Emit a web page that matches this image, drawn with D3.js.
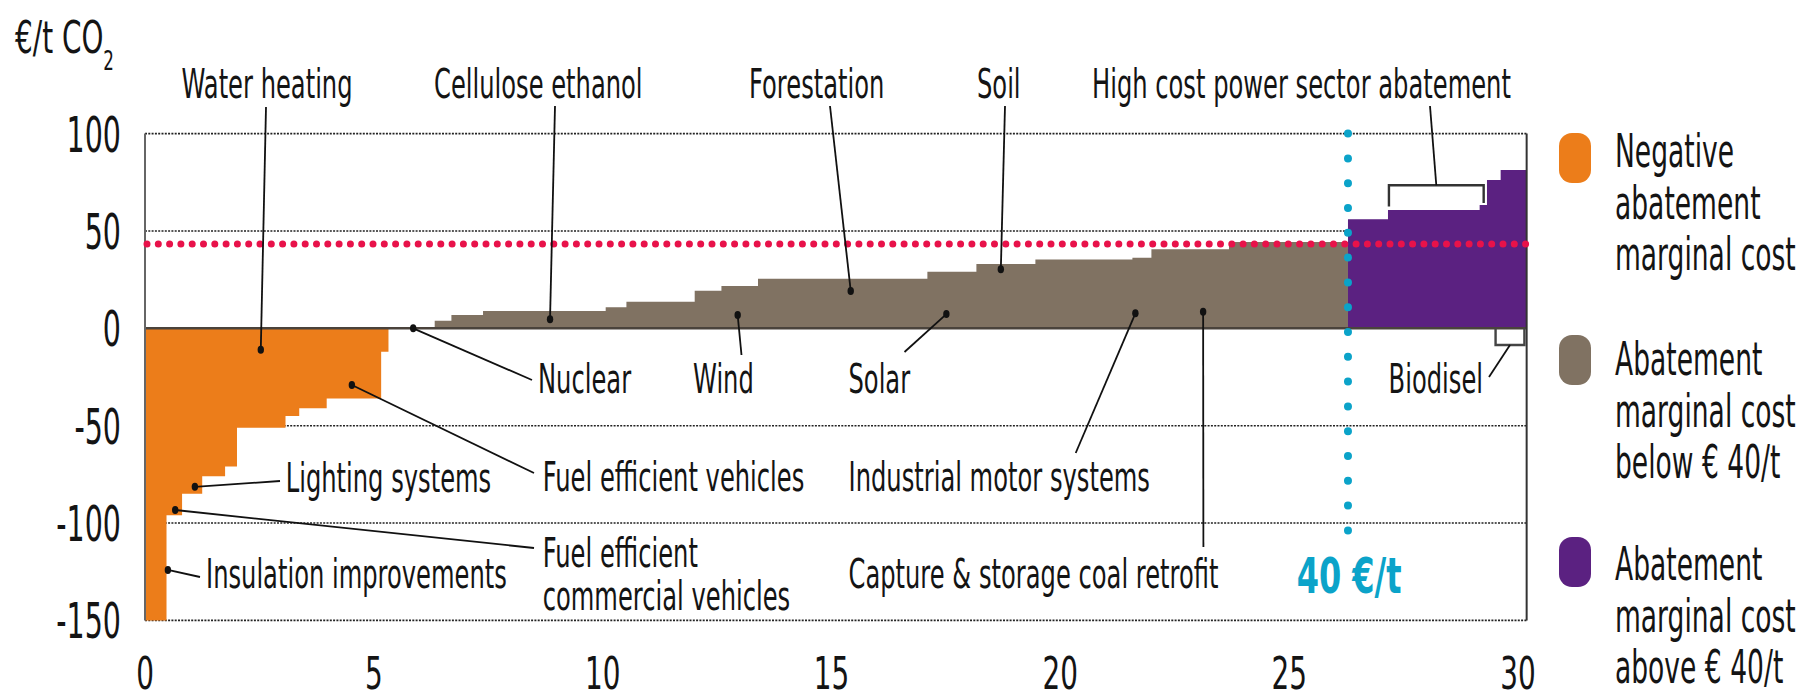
<!DOCTYPE html>
<html><head><meta charset="utf-8">
<script src="https://cdn.jsdelivr.net/npm/d3@7"></script>
<style>
body{margin:0;background:#fff;}
svg{display:block;}
text{font-family:"DejaVu Sans",Verdana,sans-serif;fill:#141414;}
</style>
</head><body>
<svg id="chart" width="1820" height="700"></svg>
<script>
// ---------------- DATA ----------------
// Negative abatement cost measures (width = GtCO2, value = €/t CO2)
const negWidths  = [0.47, 0.34, 0.44, 0.50, 0.26, 1.06, 0.30, 0.60, 1.19, 0.16];
const negValues  = [-150, -96, -85, -76, -71, -51, -45, -41, -36, -12];
// Abatement marginal cost below € 40/t (first segment = nuclear, ~0)
const lowWidths  = [1.01, 0.365, 0.691, 2.68, 0.453, 1.492, 0.584, 0.799, 3.701, 1.071, 1.289, 2.12, 0.415, 1.695, 2.60];
const lowValues  = [0.5, 3.9, 6.8, 8.9, 10.8, 13.7, 19.3, 21.7, 25.4, 29.1, 33.0, 35.4, 36.3, 40.6, 44.3];
// Abatement marginal cost above € 40/t
const highWidths = [0.874, 2.003, 0.16, 0.299, 0.568];
const highValues = [56.0, 60.8, 63.3, 76.2, 81.3];

const xTicks = [0, 5, 10, 15, 20, 25, 30];
const yTicks = [100, 50, 0, -50, -100, -150];
const gridValues = [100, 50, -50, -100, -150];
const thresholdValue = 43.3;      // red dotted line
const thresholdLabel = "40 €/t";
const cyanBottomValue = -107;

const legendLabels = [
  ["Negative", "abatement", "marginal cost"],
  ["Abatement", "marginal cost", "below € 40/t"],
  ["Abatement", "marginal cost", "above € 40/t"]
];
const colors = {neg:"#EC7D1A", low:"#807262", high:"#5B2181", red:"#E8124A", cyan:"#0BA3C9"};

// annotations: dot in data units, leader end and text in layout pixels
const annotations = [
  {text:["Water heating"], dot:[2.53,-11], end:[266,107], tx:267, ty:98, anchor:"middle"},
  {text:["Cellulose ethanol"], dot:[8.85,4.6], end:[555,106], tx:434, ty:98},
  {text:["Forestation"], dot:[15.42,19.2], end:[830,106], tx:749, ty:98},
  {text:["Soil"], dot:[18.70,30.3], end:[1005,106], tx:977, ty:98},
  {text:["Nuclear"], dot:[5.86,0], end:[532,380], tx:538, ty:393},
  {text:["Wind"], dot:[12.95,6.8], end:[741.5,355], tx:693, ty:393},
  {text:["Solar"], dot:[17.51,7.3], end:[904.5,352], tx:848.5, ty:393},
  {text:["Fuel efficient vehicles"], dot:[4.52,-29.1], end:[534,473], tx:542.7, ty:491},
  {text:["Lighting systems"], dot:[1.09,-81.4], end:[280,481], tx:285.7, ty:491.7},
  {text:["Fuel efficient","commercial vehicles"], dot:[0.66,-93.3], end:[534,548], tx:542.7, ty:566.7},
  {text:["Insulation improvements"], dot:[0.50,-124.1], end:[200,577], tx:206, ty:588.3},
  {text:["Industrial motor systems"], dot:[21.64,7.7], end:[1075.7,453], tx:848.5, ty:491},
  {text:["Capture & storage coal retrofit"], dot:[23.12,8.5], end:[1203.4,547], tx:848.5, ty:588}
];
const highBracket = {x0:27.18, x1:29.25, top:73.5, leg0:62.5, leg1:64.4, label:"High cost power sector abatement", tx:1092, ty:98, end:[1430,106]};
const bioBracket  = {x0:29.51, x1:30.14, bottom:-8.6, label:"Biodisel", tx:1483, ty:393, end:[1489,377]};

// ---------------- LAYOUT ----------------
const svg = d3.select("#chart");
const x = d3.scaleLinear().domain([0, 30]).range([145, 1518]);
const y = d3.scaleLinear().domain([-150, 100]).range([620.4, 133.6]);
const SX = 0.59;

function txt(g, s, px, py, size, anchor, sx, weight, fill){
  const t = g.append("text")
    .attr("transform", `translate(${px},${py}) scale(${sx},1)`)
    .attr("text-anchor", anchor || "start")
    .style("font-size", size + "px")
    .text(s);
  if (weight) t.style("font-weight", weight);
  if (fill) t.style("fill", fill);
  return t;
}

const negTotal = d3.sum(negWidths), lowTotal = d3.sum(lowWidths), highTotal = d3.sum(highWidths);
const xEnd = negTotal + lowTotal + highTotal;

// gridlines
svg.append("g").selectAll("line").data(gridValues).join("line")
  .attr("x1", x(0)).attr("x2", x(xEnd))
  .attr("y1", d => y(d)).attr("y2", d => y(d))
  .attr("stroke", "#222").attr("stroke-width", 1.6).attr("stroke-dasharray", "2 1.3");

// step series
function series(widths, values, start, color){
  const starts = [start, ...Array.from(d3.cumsum(widths), c => start + c)];
  const pts = values.map((v, i) => [starts[i], v]);
  pts.push([starts[starts.length - 1], values[values.length - 1]]);
  const area = d3.area().curve(d3.curveStepAfter)
    .x(d => x(d[0])).y0(y(0)).y1(d => y(d[1]));
  svg.append("path").datum(pts).attr("d", area).attr("fill", color);
}
series(negWidths, negValues, 0, colors.neg);
series(lowWidths, lowValues, negTotal, colors.low);
series(highWidths, highValues, negTotal + lowTotal, colors.high);

// zero line
svg.append("line").attr("x1", x(0)).attr("x2", x(xEnd)).attr("y1", y(0)).attr("y2", y(0))
  .attr("stroke", "#4a433c").attr("stroke-width", 2.6);

// frame
svg.append("line").attr("x1", x(0)).attr("x2", x(0)).attr("y1", y(100)).attr("y2", y(-150))
  .attr("stroke", "#666").attr("stroke-width", 2);
svg.append("line").attr("x1", x(xEnd)).attr("x2", x(xEnd)).attr("y1", y(100)).attr("y2", y(-150))
  .attr("stroke", "#333").attr("stroke-width", 2);

// red threshold dotted line
svg.append("line").attr("x1", x(0) + 2).attr("x2", x(xEnd)).attr("y1", y(thresholdValue)).attr("y2", y(thresholdValue))
  .attr("stroke", colors.red).attr("stroke-width", 7).attr("stroke-linecap", "round")
  .attr("stroke-dasharray", "0 11.3");

// annotations
const ag = svg.append("g");
annotations.forEach(a => {
  ag.append("line").attr("x1", x(a.dot[0])).attr("y1", y(a.dot[1])).attr("x2", a.end[0]).attr("y2", a.end[1])
    .attr("stroke", "#111").attr("stroke-width", 1.8);
  ag.append("ellipse").attr("cx", x(a.dot[0])).attr("cy", y(a.dot[1])).attr("rx", 3.2).attr("ry", 4).attr("fill", "#111");
  a.text.forEach((s, i) => txt(ag, s, a.tx, a.ty + i * 43.3, 41, a.anchor || "start", SX));
});
// high cost bracket
const hb = highBracket;
ag.append("path").attr("d",
  `M${x(hb.x0)},${y(hb.leg0)} L${x(hb.x0)},${y(hb.top)} L${x(hb.x1)},${y(hb.top)} L${x(hb.x1)},${y(hb.leg1)}`)
  .attr("fill", "none").attr("stroke", "#333").attr("stroke-width", 2.4);
ag.append("line").attr("x1", (x(hb.x0) + x(hb.x1)) / 2).attr("y1", y(hb.top)).attr("x2", hb.end[0]).attr("y2", hb.end[1])
  .attr("stroke", "#111").attr("stroke-width", 1.8);
txt(ag, hb.label, hb.tx, hb.ty, 41, "start", SX);
// biodiesel bracket
const bb = bioBracket;
ag.append("path").attr("d",
  `M${x(bb.x0)},${y(0)} L${x(bb.x0)},${y(bb.bottom)} L${x(bb.x1)},${y(bb.bottom)} L${x(bb.x1)},${y(0)}`)
  .attr("fill", "none").attr("stroke", "#444").attr("stroke-width", 2.4);
ag.append("line").attr("x1", (x(bb.x0) + x(bb.x1)) / 2).attr("y1", y(bb.bottom)).attr("x2", bb.end[0]).attr("y2", bb.end[1])
  .attr("stroke", "#111").attr("stroke-width", 1.8);
txt(ag, bb.label, bb.tx, bb.ty, 41, "end", SX);

// cyan 40 €/t vertical dotted line
const cx = x(negTotal + lowTotal);
svg.append("line").attr("x1", cx).attr("x2", cx).attr("y1", y(100)).attr("y2", y(cyanBottomValue))
  .attr("stroke", colors.cyan).attr("stroke-width", 8).attr("stroke-linecap", "round")
  .attr("stroke-dasharray", "0 24.8");
txt(svg, thresholdLabel, 1296.7, 593.3, 50, "start", 0.64, "bold", colors.cyan);

// axes tick labels
yTicks.forEach(v => txt(svg, String(v), 121, y(v) + 18, 50, "end", 0.57));
xTicks.forEach(v => txt(svg, String(v), x(v), 689, 45, "middle", 0.62));

// y axis title
const yt = txt(svg, "€/t CO", 15, 53, 45, "start", 0.62);
yt.append("tspan").attr("dy", 17).style("font-size", "27px").text("2");

// legend
const legendColors = [colors.neg, colors.low, colors.high];
const legendTops = [133, 335, 537];
const legendBaselines = [167, 375, 580];
legendLabels.forEach((lines, i) => {
  svg.append("rect").attr("x", 1559).attr("y", legendTops[i]).attr("width", 32).attr("height", 50)
    .attr("rx", 13).attr("fill", legendColors[i]);
  lines.forEach((s, j) => txt(svg, s, 1615, legendBaselines[i] + j * 51.7, 47, "start", 0.565));
});
</script>
</body></html>
